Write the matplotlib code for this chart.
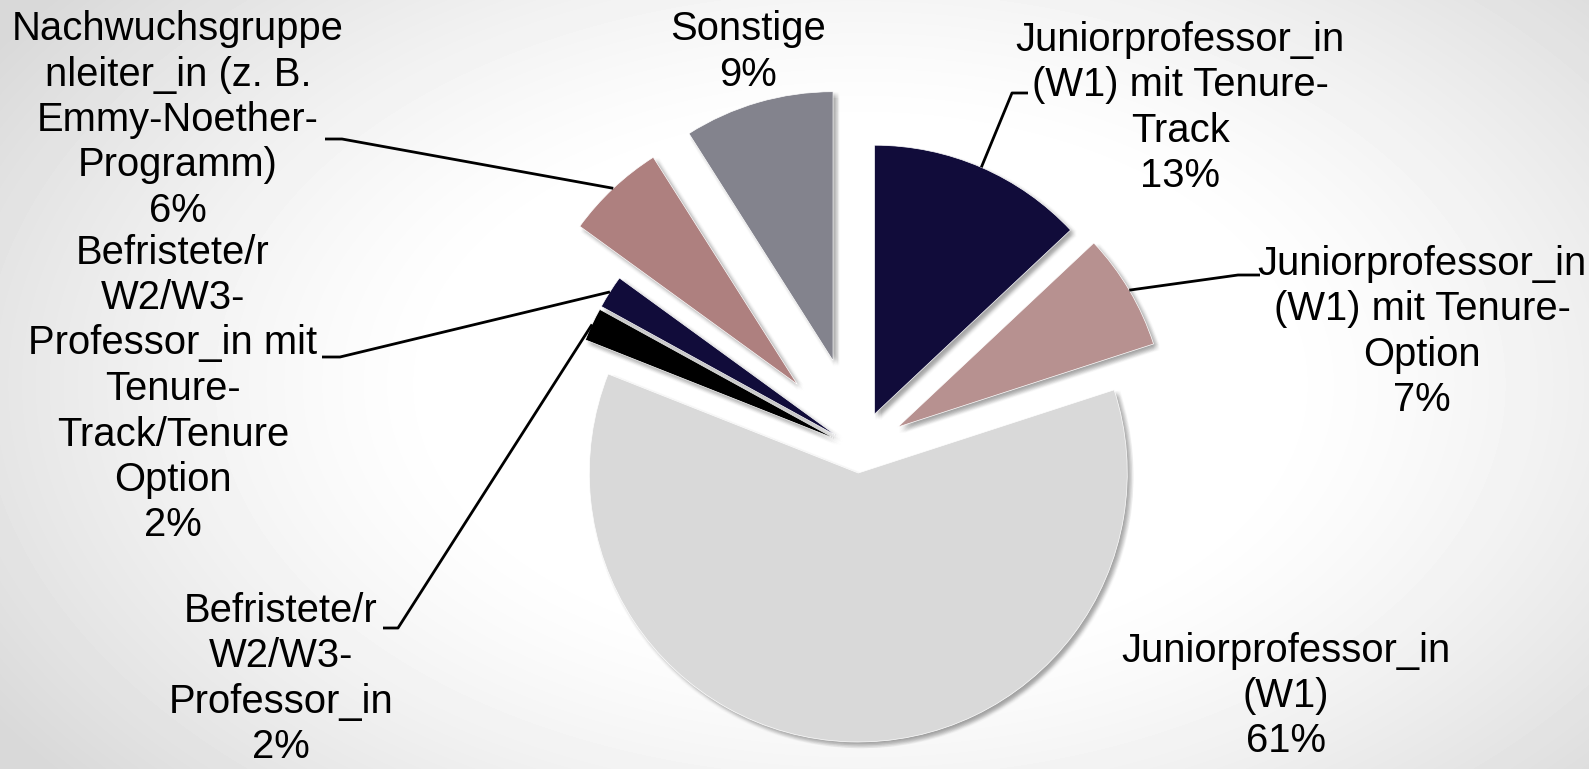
import numpy as np
import matplotlib
matplotlib.use("Agg")
import matplotlib.pyplot as plt
from matplotlib import patheffects as pe

W, H = 1589, 769

# data, clockwise from 12 o'clock
categories = [
    "Juniorprofessor_in\n(W1) mit Tenure-\nTrack",
    "Juniorprofessor_in\n(W1) mit Tenure-\nOption",
    "Juniorprofessor_in\n(W1)",
    "Befristete/r\nW2/W3-\nProfessor_in",
    "Befristete/r\nW2/W3-\nProfessor_in mit\nTenure-\nTrack/Tenure\nOption",
    "Nachwuchsgruppe\nnleiter_in (z. B.\nEmmy-Noether-\nProgramm)",
    "Sonstige",
]
shares = [13, 7, 61, 2, 2, 6, 9]

colors = ["#110c3a", "#b79190", "#d9d9d9", "#000000", "#110c3a", "#ae807f", "#83838d"]
explode_px = [39, 45, 23, 26, 26, 90, 93]

# label layout (image pixel coords, y down)
label_pos = [(1180, 108), (1422, 332), (1286, 696), (281, 679),
             (173, 389), (178, 120), (748, 52)]
# leader: elbow + end point near the text, None = no leader
leaders = [((1012, 93), (1028, 93)), ((1238, 275), (1260, 275)), None,
           ((398, 628), (383, 628)), ((340, 357), (322, 357)),
           ((342, 139), (325, 139)), None]

CX, CY, R = 859, 450, 269


def iy(y):
    return H - y


plt.rcParams["font.family"] = ["Liberation Sans", "DejaVu Sans"]

fig = plt.figure(figsize=(W / 100, H / 100), dpi=100)
ax = fig.add_axes([0, 0, 1, 1])

# soft radial background
xx, yy = np.meshgrid(np.arange(W), np.arange(H))
d = np.sqrt(((xx - 860) / 820.0) ** 2 + ((yy - 384) / 500.0) ** 2)
t = np.clip((d - 0.5) / 0.75, 0, 1) ** 1.3
bg = 1 - 0.15 * t
ax.imshow(bg, extent=(0, W, 0, H), origin="upper", cmap="gray", vmin=0, vmax=1,
          aspect="auto", zorder=0, interpolation="bilinear")

wedges, _ = ax.pie(shares, colors=colors, explode=explode_px, startangle=90,
                   counterclock=False, radius=R, center=(CX, iy(CY)),
                   wedgeprops=dict(edgecolor="white", linewidth=0.5))

shadow = []
for dx in np.arange(0.5, 5.0, 1.0):
    for dy in np.arange(0.5, 5.0, 1.0):
        shadow.append(pe.SimplePatchShadow(offset=(dx, -dy), shadow_rgbFace="black", alpha=0.016))
shadow.append(pe.Normal())
for w in wedges:
    w.set_zorder(2)
    w.set_path_effects(shadow)

for w, name, v, pos, ld in zip(wedges, categories, shares, label_pos, leaders):
    ax.text(pos[0], iy(pos[1]), f"{name}\n{v}%", ha="center", va="center",
            multialignment="center", fontsize=28.8, linespacing=1.25, zorder=4)
    if ld is None:
        continue
    ang = np.deg2rad((w.theta1 + w.theta2) / 2)
    ax0 = w.center[0] + w.r * np.cos(ang)
    ay0 = w.center[1] + w.r * np.sin(ang)
    (ex, ey), (tx, ty) = ld
    ax.plot([ax0, ex, tx], [ay0, iy(ey), iy(ty)], color="black", lw=2,
            solid_capstyle="butt", zorder=3)

ax.set_xlim(0, W)
ax.set_ylim(0, H)
ax.set_aspect("equal")
ax.axis("off")

fig.savefig("out.png", dpi=100)
